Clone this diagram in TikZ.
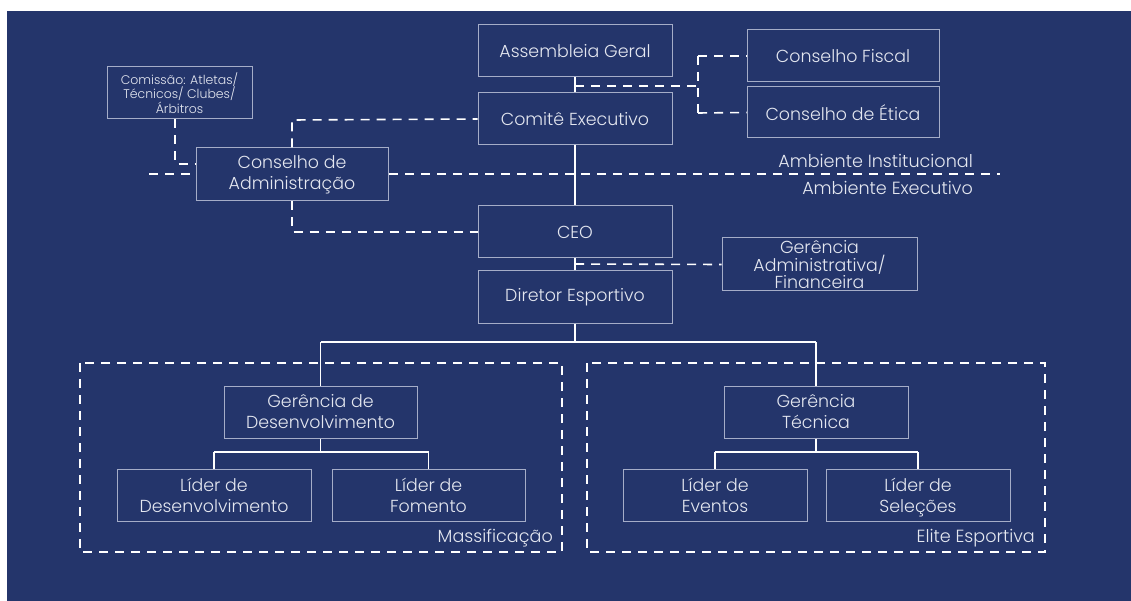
\documentclass[tikz,border=0pt]{standalone}
\usepackage{fontspec}
\setmainfont{Poppins}[UprightFont=* Light]
\definecolor{navy}{RGB}{36,53,107}
\definecolor{bordercol}{RGB}{165,173,200}
\definecolor{txt}{RGB}{228,231,240}
\begin{document}
\begin{tikzpicture}[x=1pt,y=-1pt,
  box/.style={draw=bordercol,line width=1pt,fill=navy,text=txt,align=center,inner sep=0pt,font=\fontsize{17.4}{21}\selectfont},
  conn/.style={draw=white,line width=1.6pt},
  dconn/.style={draw=white,line width=1.6pt,dash pattern=on 9pt off 7pt},
  lbl/.style={text=txt,inner sep=0pt,font=\fontsize{17.6}{21}\selectfont}]
\useasboundingbox (0,0) rectangle (1131,601);
\fill[white] (0,0) rectangle (1131,601);
\fill[navy] (7,11) rectangle (1131,601);
% ambient divider
\coordinate (ambL) at (149,174);
\coordinate (ambR) at (1000,174);
\draw[dconn] (ambL) -- (ambR);
% nodes
\node[box,minimum width=194pt,minimum height=52pt] (ag) at (575,51) {Assembleia Geral};
\node[box,minimum width=194pt,minimum height=52pt] (ce) at (575,119) {Comitê Executivo};
\node[box,minimum width=194pt,minimum height=52pt] (ceo) at (575,232) {CEO};
\node[box,minimum width=194pt,minimum height=52pt] (de) at (575,297) {Diretor Esportivo};
\node[box,minimum width=192pt,minimum height=52pt] (cf) at (843,56) {Conselho Fiscal};
\node[box,minimum width=192pt,minimum height=51pt] (cet) at (843,112.5) {Conselho de Ética};
\node[box,minimum width=192pt,minimum height=53pt] (ca) at (292,174.5) {Conselho de\\Administração};
\node[box,minimum width=145pt,minimum height=52pt,font=\fontsize{12.5}{14.5}\selectfont] (com) at (179.5,93) {Comissão: Atletas/\\Técnicos/ Clubes/\\Árbitros};
\node[box,minimum width=195pt,minimum height=53pt,font=\fontsize{17.4}{15.5}\selectfont] (gaf) at (819.5,264.5) {Gerência\\Administrativa/\\Financeira};
\node[lbl,anchor=east] (ai) at (973,161) {Ambiente Institucional};
\node[lbl,anchor=east] (ae) at (973,188) {Ambiente Executivo};
% dashed groups
\draw[dconn] (80,363) rectangle (562,552);
\draw[dconn] (587,363) rectangle (1045,552);
\node[lbl,anchor=east] (mas) at (553,538) {Massificação};
\node[lbl,anchor=east] (eli) at (1035,538) {Elite Esportiva};
\node[box,minimum width=193pt,minimum height=52pt] (gd) at (320.5,412) {Gerência de\\Desenvolvimento};
\node[box,minimum width=184pt,minimum height=52pt] (gt) at (816,412) {Gerência\\Técnica};
\node[box,minimum width=194pt,minimum height=52pt] (ld) at (214,495) {Líder de\\Desenvolvimento};
\node[box,minimum width=193pt,minimum height=52pt] (lf) at (428.5,495) {Líder de\\Fomento};
\node[box,minimum width=184pt,minimum height=52pt] (le) at (715,495) {Líder de\\Eventos};
\node[box,minimum width=184pt,minimum height=52pt] (ls) at (918,495) {Líder de\\Sele\smash{ç}ões};
% coordinates
\coordinate (j1) at (575,86);
\coordinate (j2) at (698,86);
\coordinate (cfj) at (698,56);
\coordinate (cetj) at (698,113);
\coordinate (caT) at (292,120);
\coordinate (caB) at (292,232);
\coordinate (comB) at (175,164);
\coordinate (gafj) at (575,264);
\coordinate (dej) at (575,342);
\coordinate (dL) at (320.5,342);
\coordinate (dR) at (816,342);
\coordinate (gdj) at (320.5,452);
\coordinate (gdL) at (214,452);
\coordinate (gdR) at (428.5,452);
\coordinate (gtj) at (816,452);
\coordinate (gtL) at (715,452);
\coordinate (gtR) at (918,452);
% solid trunk
\draw[conn] (ag.south) -- (ce.north);
\draw[conn] (ce.south) -- (ceo.north);
\draw[conn] (ceo.south) -- (de.north);
\draw[conn] (de.south) -- (dej);
\draw[conn] (dL) -- (dR);
\draw[conn] (dL) -- (gd.north);
\draw[conn] (dR) -- (gt.north);
\draw[conn] (gd.south) -- (gdj);
\draw[conn] (gdL) -- (gdR);
\draw[conn] (gdL) -- (ld.north);
\draw[conn] (gdR) -- (lf.north);
\draw[conn] (gt.south) -- (gtj);
\draw[conn] (gtL) -- (gtR);
\draw[conn] (gtL) -- (le.north);
\draw[conn] (gtR) -- (ls.north);
% dashed links
\draw[dconn] (j1) -- (j2);
\draw[dconn] (cfj) -- (cetj);
\draw[dconn] (cfj) -- (cf.west);
\draw[dconn] (cetj) -- (cet.west);
\draw[dconn] (ca.north -| caT) -- (caT) -- (ce.west);
\draw[dconn] (ca.south -| caB) -- (caB) -- (ceo.west);
\draw[dconn] (com.south -| comB) -- (comB) -- (ca.west |- comB);
\draw[dconn] (gafj) -- (gaf.west);
\end{tikzpicture}
\end{document}
